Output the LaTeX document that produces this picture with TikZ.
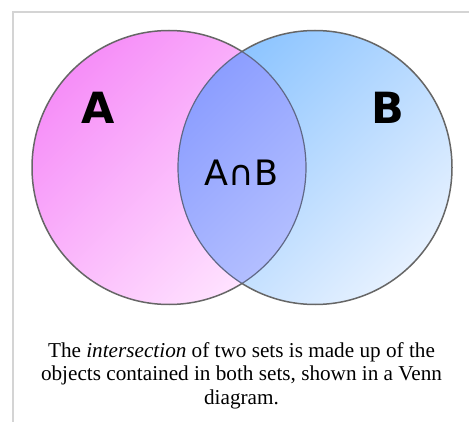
\documentclass[tikz,border=0pt]{standalone}
\usepackage{fontspec}
\setmainfont{Liberation Serif}
\newfontfamily\labelfont{DejaVu Sans}
\definecolor{frameGray}{HTML}{D4D4D4}
\definecolor{edgeGray}{HTML}{666666}
\definecolor{innerEdge}{HTML}{606886}
\definecolor{aDark}{HTML}{F68EF8}
\definecolor{aLight}{HTML}{FFE4FF}
\definecolor{bDark}{HTML}{8CC4FF}
\definecolor{bLight}{HTML}{E6F1FF}
\definecolor{iDark}{HTML}{8C9EFF}
\definecolor{iLight}{HTML}{CAD2FF}
\tikzset{
  setlabel/.style={font=\labelfont\bfseries\fontsize{43}{43}\selectfont, inner sep=0pt},
  caplabel/.style={font=\labelfont\fontsize{35}{35}\selectfont, inner sep=0pt},
  captionline/.style={font=\fontsize{21.2}{24}\selectfont, inner sep=0pt, anchor=base},
  outline/.style={draw=edgeGray, line width=1.5pt},
  inneroutline/.style={draw=innerEdge, line width=1.2pt},
}
\begin{document}
\begin{tikzpicture}[x=1pt,y=1pt]
\useasboundingbox (0,0) rectangle (469,421);
% page frame
\draw[frameGray, line width=1.2pt] (13,-2) -- (13,409) -- (471,409);
% set geometry
\def\R{137}
\coordinate (ca) at (169,253.5);
\coordinate (cb) at (315,253.5);
% fills
\shade[top color=aDark, bottom color=aLight, shading angle=45] (ca) circle (\R);
\shade[top color=bDark, bottom color=bLight, shading angle=45] (cb) circle (\R);
\begin{scope}
  \clip (ca) circle (\R);
  \shade[top color=iDark, bottom color=iLight, shading angle=45] (cb) circle (\R);
\end{scope}
% inner arcs of the overlap
\begin{scope}
  \clip (cb) circle (\R);
  \draw[inneroutline] (ca) circle (\R);
\end{scope}
\begin{scope}
  \clip (ca) circle (\R);
  \draw[inneroutline] (cb) circle (\R);
\end{scope}
% outer arcs
\begin{scope}[even odd rule]
  \clip (-10,-10) rectangle (480,430) (cb) circle (\R);
  \draw[outline] (ca) circle (\R);
\end{scope}
\begin{scope}[even odd rule]
  \clip (-10,-10) rectangle (480,430) (ca) circle (\R);
  \draw[outline] (cb) circle (\R);
\end{scope}
% labels
\node[setlabel] (labA) at (98.5,313) {A};
\node[setlabel] (labB) at (388,313) {B};
\node[caplabel] (labAB) at (241.5,248.5) {A∩B};
% caption
\node[captionline] (cap1) at (241.5,64) {The \textit{intersection} of two sets is made up of the};
\node[captionline] (cap2) at (241.5,40.5) {objects contained in both sets, shown in a Venn};
\node[captionline] (cap3) at (241.5,17) {diagram.};
\end{tikzpicture}
\end{document}
